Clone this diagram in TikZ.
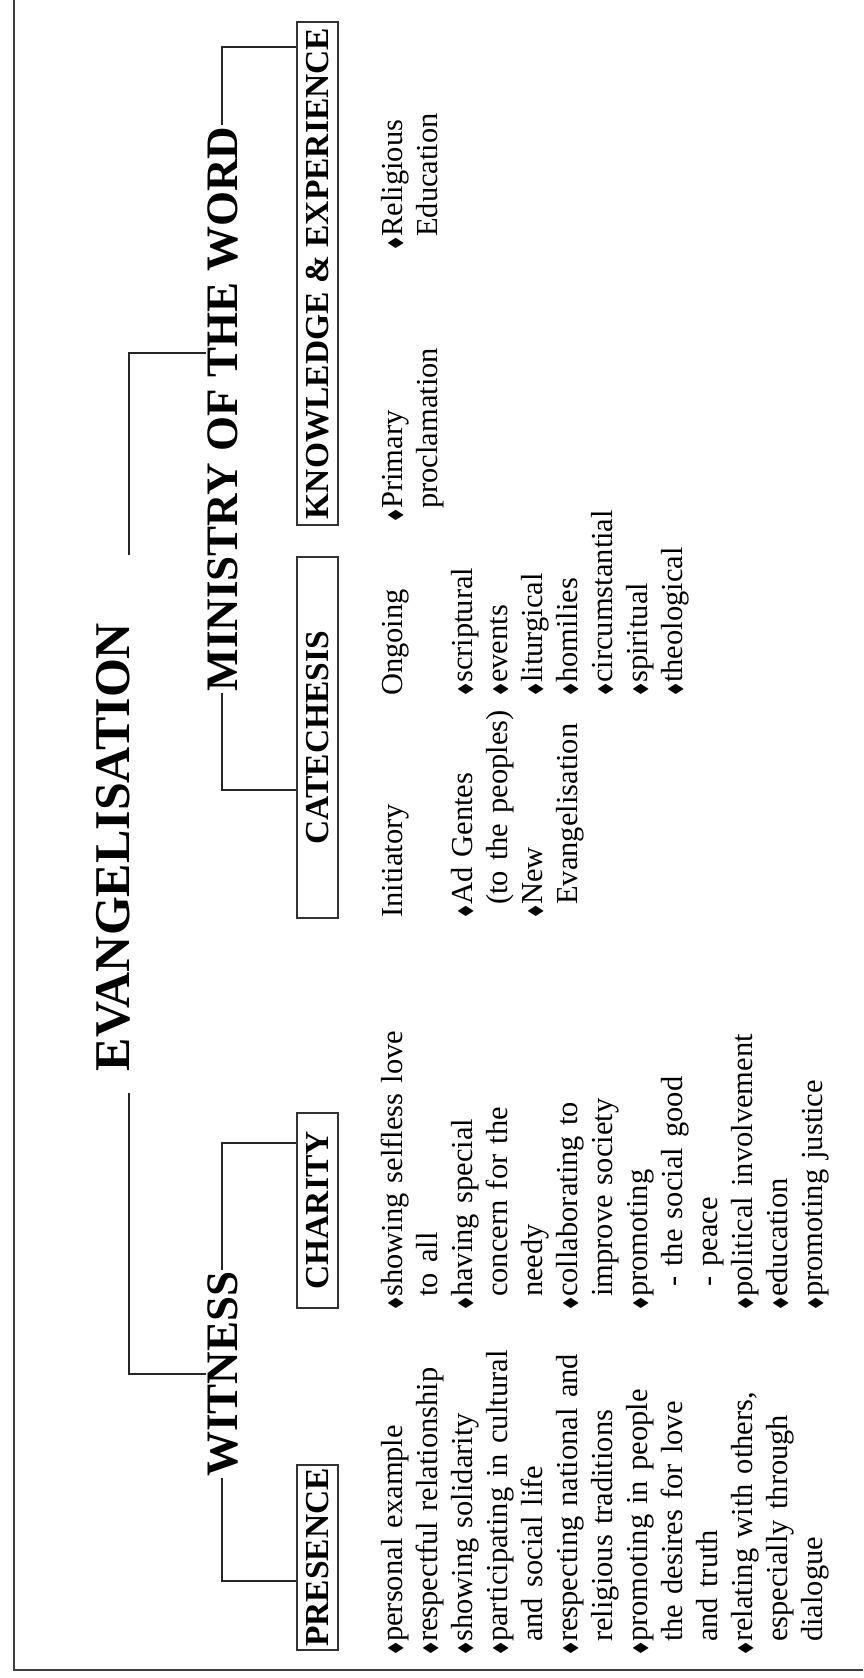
\documentclass[tikz,border=0pt]{standalone}
\usepackage{fontspec}
\usepackage{amssymb}
\usepackage{graphicx}
\setmainfont{Liberation Serif}
\usetikzlibrary{calc}
\newcommand{\bul}{\makebox[13pt][l]{\raisebox{1pt}{\scalebox{0.6}{$\blacklozenge$}}}}
\newcommand{\ind}{\hspace*{13pt}}

\begin{document}
\begin{tikzpicture}[x=1pt, y=1pt,
		headtext/.style={rotate=90, inner sep=1pt, font=\fontsize{50}{52}\selectfont\bfseries},
		subhead/.style={rotate=90, inner sep=1pt, font=\fontsize{45}{47}\selectfont\bfseries},
		boxlabel/.style={rotate=90, draw=black!80, line width=1.4pt, minimum height=41pt, inner sep=2pt, font=\fontsize{33.5}{35}\selectfont\bfseries},
		itemlist/.style={rotate=90, inner sep=0pt, anchor=base west, text width=330pt, align=left, font=\fontsize{30.5}{35}\selectfont},
		link/.style={line width=2pt, draw=black!85}]
			%%%%% START %%%%%
			
			\useasboundingbox (0,0) rectangle (863,-1678);
			\draw[line width=2.4pt, draw=black!75] (14,0) |- (863,-1670);
			
			\node[headtext, anchor=base] (evang) at (129,-847) {EVANGELISATION};
			\node[subhead, anchor=base] (witness) at (237,-1374) {WITNESS};
			\node[subhead, anchor=base] (ministry) at (237,-409) {MINISTRY OF THE WORD};
			
			\node[boxlabel, minimum width=185pt] (presence) at (317.5,-1557.5) {PRESENCE};
			\node[boxlabel, minimum width=195pt] (charity) at (317.5,-1210.5) {CHARITY};
			\node[boxlabel, minimum width=361pt] (catech) at (317.5,-737.5) {CATECHESIS};
			\node[boxlabel, minimum width=503pt] (knowl) at (317.5,-273.5) {KNOWLEDGE \& EXPERIENCE};
			
			\coordinate (evang-l) at ([yshift=-21pt]evang.base west);
			\coordinate (evang-r) at ([yshift=67pt]evang.base east);
			\draw[link] (evang-l) |- (witness.north);
			\draw[link] (evang-r) |- ([yshift=56pt]ministry.north);
			
			\draw[link] (witness.west) |- ([yshift=-23pt]presence.north);
			\draw[link] (witness.east) |- ([yshift=68pt]charity.north);
			\draw[link] (ministry.west) |- ([yshift=-52pt]catech.north);
			\draw[link] (ministry.east) |- ([yshift=226pt]knowl.north);
			
			\node[itemlist] (presence-list) at (402,-1655) {\bul personal example\\ \bul respectful relationship\\ \bul showing solidarity\\ \bul participating in cultural\\ \ind and social life\\ \bul respecting national and\\ \ind religious traditions\\ \bul promoting in people\\ \ind the desires for love\\ \ind and truth\\ \bul relating with others,\\ \ind especially through\\ \ind dialogue};
			
			\node[itemlist] (charity-list) at (402,-1310) {\bul showing selfless love\\ \ind to all\\ \bul having special\\ \ind concern for the\\ \ind needy\\ \bul collaborating to\\ \ind improve society\\ \bul promoting\\ \ind\ -\hspace{10pt}the social good\\ \ind\ -\hspace{10pt}peace\\ \bul political involvement\\ \bul education\\ \bul promoting justice};
			
			\node[itemlist] (init-list) at (402,-918) {Initiatory\\[35pt] \bul Ad Gentes\\ \ind (to the peoples)\\ \bul New\\ \ind Evangelisation};
			\node[itemlist] (ongoing-list) at (402,-696) {Ongoing\\[35pt] \bul scriptural\\ \bul events\\ \bul liturgical\\ \bul homilies\\ \bul circumstantial\\ \bul spiritual\\ \bul theological};
			\node[itemlist] (primary-list) at (402,-522) {\bul Primary\\ \ind proclamation};
			\node[itemlist] (religious-list) at (402,-250) {\bul Religious\\ \ind Education};
			
			%%%%% END %%%%%
\end{tikzpicture}
\end{document}
